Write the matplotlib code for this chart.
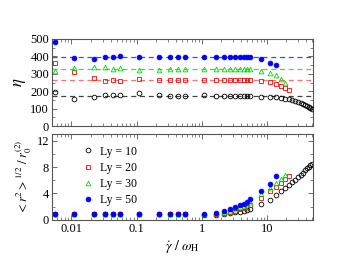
import numpy as np
import matplotlib
matplotlib.use("Agg")
import matplotlib.pyplot as plt
from matplotlib.ticker import MultipleLocator, LogLocator, NullFormatter

plt.rcParams["font.family"] = ["Liberation Serif", "DejaVu Serif"]
plt.rcParams["mathtext.fontset"] = "stix"

# shear rates
x_low = [0.0055, 0.011, 0.022, 0.033, 0.044, 0.055, 0.11, 0.22, 0.33, 0.44, 0.55]
x_mid = [1.1, 1.65, 2.2, 2.75, 3.3, 3.85, 4.4, 4.95, 5.5]
x_hi = [8.25, 11, 13.75, 16.5, 19.25, 22, 24.75, 27.5, 30.25, 33, 35.75,
        38.5, 41.25, 44, 46.75, 49.5]

# viscosity
eta_10 = [197, 154, 168, 176, 176, 176, 188, 176, 175, 174, 175,
          176, 175, 175, 174, 175, 174, 175, 174, 174,
          168, 168, 167, 163, 157, 153, 147, 142, 136, 130, 125, 119, 113, 107, 102, 96]
eta_20 = [364, 312, 278, 257, 262, 260, 272, 265, 266, 265, 264,
          265, 266, 265, 265, 264, 265, 265, 264, 264,
          259, 251, 241, 232, 220, 207]
eta_30 = [316, 334, 341, 341, 326, 335, 322, 320, 325, 326, 325,
          325, 326, 325, 326, 325, 325, 326, 325, 325,
          318, 303, 293, 270, 249]
eta_50 = [480, 392, 387, 397, 397, 400, 395, 395, 396, 395, 396,
          395, 396, 395, 396, 395, 396, 396, 395, 395,
          385, 364, 351]
eta_mean = {"10": 175, "20": 265, "30": 325, "50": 395}

# size ratio
r_10 = [0.85] * 11 + [0.75, 0.8, 0.9, 1.0, 1.15, 1.25, 1.35, 1.5, 1.6,
                      2.35, 3.0, 3.75, 4.35, 4.85, 5.35, 5.75, 6.1, 6.45, 6.8,
                      7.15, 7.5, 7.8, 8.05, 8.25, 8.4]
r_20 = [0.85] * 11 + [0.8, 0.9, 1.05, 1.25, 1.4, 1.6, 1.75, 1.95, 2.2,
                      3.25, 4.4, 5.0, 5.65, 6.15, 6.65]
r_30 = [0.85] * 11 + [0.85, 1.0, 1.2, 1.4, 1.65, 1.9, 2.1, 2.35, 2.7,
                      3.85, 4.85, 5.6, 6.25, 6.75]
r_50 = [0.85] * 11 + [0.9, 1.1, 1.35, 1.6, 1.9, 2.2, 2.45, 2.7, 3.1,
                      4.35, 5.45, 6.6]

labels = ["Ly = 10", "Ly = 20", "Ly = 30", "Ly = 50"]
x_all = x_low + x_mid + x_hi

series = [
    (eta_10, r_10, "10", dict(marker="o", mfc="none", mec="black", color="#444444")),
    (eta_20, r_20, "20", dict(marker="s", mfc="none", mec="red", color="#ff7070")),
    (eta_30, r_30, "30", dict(marker="^", mfc="none", mec="#00dd00", color="#44dd44")),
    (eta_50, r_50, "50", dict(marker="o", mfc="blue", mec="blue", color="#4444ff")),
]

fig = plt.figure(figsize=(3.39, 2.6), dpi=100)
ax1 = fig.add_axes([0.153, 0.515, 0.77, 0.335])
ax2 = fig.add_axes([0.153, 0.154, 0.77, 0.331])

for eta, r, key, st in series:
    ax1.axhline(eta_mean[key], ls=(0, (4, 3)), lw=0.9, color=st["color"], zorder=1)
    ax1.plot(x_all[:len(eta)], eta, ls="none", ms=3.4, mew=0.6,
             marker=st["marker"], mfc=st["mfc"], mec=st["mec"], zorder=3)

for (eta, r, key, st), lab in zip(series, labels):
    ax2.plot(x_all[:len(r)], r, ls="none", ms=3.4, mew=0.6,
             marker=st["marker"], mfc=st["mfc"], mec=st["mec"], label=lab)

for ax in (ax1, ax2):
    ax.set_xscale("log")
    ax.set_xlim(0.005, 51)
    ax.tick_params(which="both", direction="in", top=True, right=True,
                   labelsize=9, pad=2, color="#555555")
    ax.tick_params(which="major", length=3.5, width=0.6)
    ax.tick_params(which="minor", length=2, width=0.5)
    ax.xaxis.set_major_locator(LogLocator(10))
    ax.xaxis.set_minor_locator(LogLocator(10, subs=np.arange(2, 10)))
    ax.xaxis.set_minor_formatter(NullFormatter())
    for s in ax.spines.values():
        s.set_color("#555555")
        s.set_linewidth(0.8)

ax1.set_ylim(0, 500)
ax1.yaxis.set_major_locator(MultipleLocator(100))
ax1.yaxis.set_minor_locator(MultipleLocator(50))
ax1.set_xticklabels([])
ax1.set_ylabel(r"$\eta$", fontsize=12, labelpad=2)

ax2.set_ylim(0, 13)
ax2.yaxis.set_major_locator(MultipleLocator(4))
ax2.yaxis.set_minor_locator(MultipleLocator(2))
ax2.set_xticks([0.01, 0.1, 1, 10])
ax2.set_xticklabels(["0.01", "0.1", "1", "10"])
ax2.set_xlabel(r"$\dot{\gamma}\ /\ \omega_{\mathrm{H}}$", fontsize=10, labelpad=2)
ax2.set_ylabel(r"$<r^{2}>^{1/2}\ /\ r_{0}^{(2)}$", fontsize=9, labelpad=2)
ax2.legend(loc="upper left", bbox_to_anchor=(0.08, 0.96), frameon=False,
           fontsize=8.5, handletextpad=0.4, labelspacing=0.35, borderpad=0.2,
           handlelength=1.2)

fig.savefig("out.png", dpi=100)
